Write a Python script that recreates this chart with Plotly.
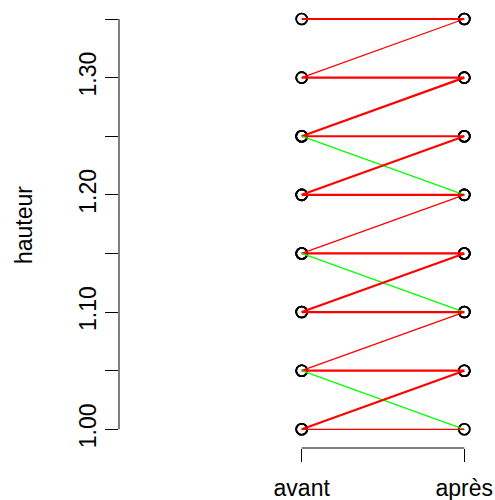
import plotly.graph_objects as go
from collections import Counter

# Data: paired heights before ("avant") and after ("après")
categories = ["avant", "après"]
avant = [1.35, 1.35, 1.30, 1.30, 1.30, 1.25, 1.25, 1.25, 1.25, 1.25,
         1.20, 1.20, 1.20, 1.20, 1.15, 1.15, 1.15, 1.15, 1.15, 1.10,
         1.10, 1.10, 1.10, 1.05, 1.05, 1.05, 1.05, 1.00, 1.00, 1.00]
apres = [1.35, 1.35, 1.35, 1.30, 1.30, 1.30, 1.30, 1.25, 1.25, 1.20,
         1.25, 1.25, 1.20, 1.20, 1.20, 1.15, 1.15, 1.10, 1.15, 1.15,
         1.15, 1.10, 1.10, 1.10, 1.05, 1.05, 1.00, 1.05, 1.05, 1.00]
ytick_vals = [1.00, 1.05, 1.10, 1.15, 1.20, 1.25, 1.30, 1.35]
ytick_text = ["1.00", "", "1.10", "", "1.20", "", "1.30", ""]

FONT = "Liberation Sans, Arial, Helvetica, sans-serif"
FS = 23

fig = go.Figure()

# points
fig.add_trace(go.Scatter(
    x=[1] * len(avant) + [2] * len(apres), y=avant + apres,
    mode="markers", hoverinfo="skip",
    marker=dict(symbol="circle-open", size=11, color="black",
                line=dict(width=1.6, color="black")),
    showlegend=False))

# segments
counts = Counter(zip(avant, apres))
for (a, b), n in counts.items():
    col = "#00FF00" if b < a else "#FF0000"
    fig.add_trace(go.Scatter(
        x=[1, 2], y=[a, b], mode="lines", hoverinfo="skip",
        line=dict(color=col, width=1.3 if n == 1 else 2.2),
        showlegend=False))

# R-style axis lines spanning only the tick range
fig.add_shape(type="line", xref="paper", yref="y", x0=0, x1=0,
              y0=ytick_vals[0], y1=ytick_vals[-1],
              line=dict(color="black", width=1))
fig.add_shape(type="line", xref="x", yref="paper", x0=1, x1=2,
              y0=0, y1=0, line=dict(color="black", width=1))

fig.add_annotation(text="hauteur", xref="paper", yref="paper",
                   x=0, y=0.5, xshift=-95, textangle=-90, showarrow=False,
                   xanchor="center", yanchor="middle",
                   font=dict(family=FONT, size=FS, color="black"))

fig.update_layout(
    width=495, height=500,
    margin=dict(l=119, r=20, t=2, b=52, autoexpand=False),
    paper_bgcolor="white", plot_bgcolor="white",
    font=dict(family=FONT, size=FS, color="black"),
    xaxis=dict(range=[-0.1236, 2.0658], tickvals=[1, 2], ticktext=categories,
               ticks="outside", ticklen=13, tickwidth=1, tickcolor="black",
               ticklabelstandoff=6, automargin=False,
               showgrid=False, zeroline=False, showline=False,
               tickfont=dict(family=FONT, size=FS, color="black")),
    yaxis=dict(range=[0.98405, 1.3645], tickvals=ytick_vals, ticktext=ytick_text,
               ticks="outside", ticklen=13, tickwidth=1, tickcolor="black",
               tickangle=-90, automargin=False,
               showgrid=False, zeroline=False, showline=False,
               tickfont=dict(family=FONT, size=FS, color="black")),
)

fig.write_html("out.html")
